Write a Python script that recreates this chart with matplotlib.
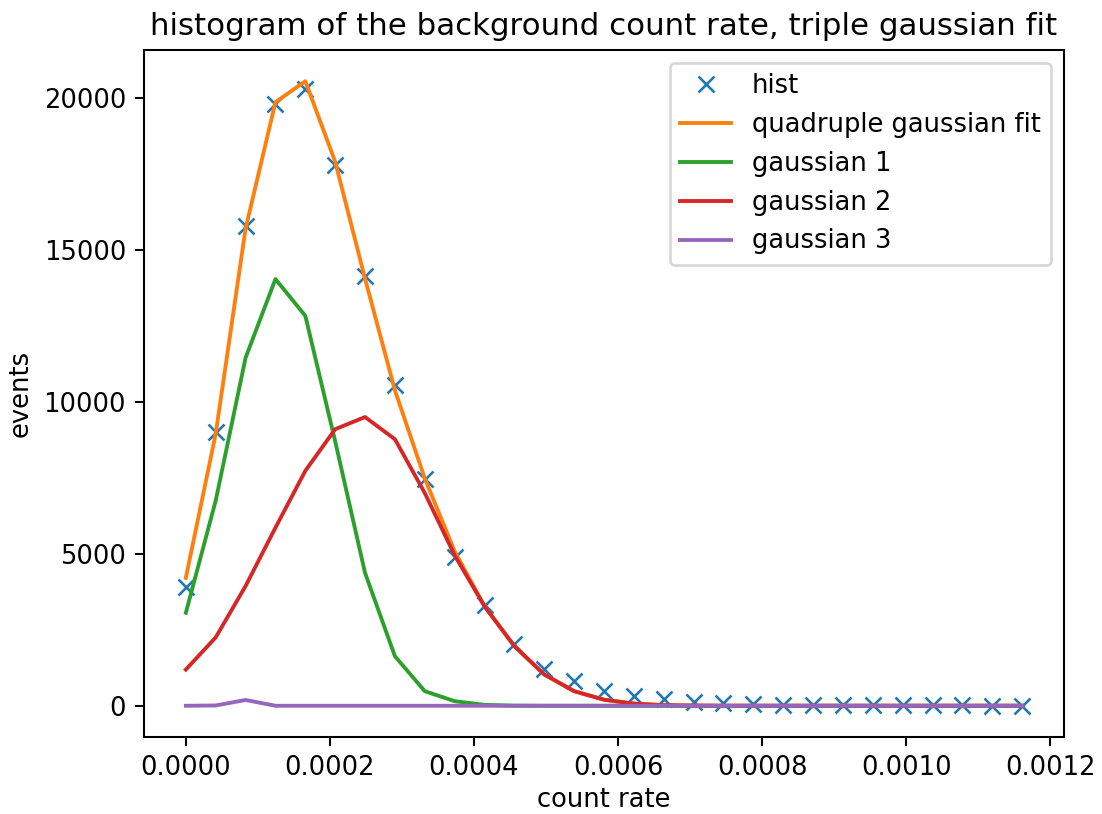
import numpy as np
import matplotlib.pyplot as plt

# bin centres (count rate)
n_bins = 29
bin_width = 4.147e-5
count_rate = [i * bin_width for i in range(n_bins)]

hist = [3900, 9000, 15800, 19800, 20300, 17800, 14130, 10550, 7450, 4890,
        3300, 2020, 1220, 810, 490, 330, 220, 140, 90, 70,
        40, 30, 25, 20, 15, 12, 10, 8, 5]

fit_total = [4210, 8950, 15700, 19860, 20550, 17900, 14050, 10380, 7480, 5080,
             3280, 1960, 1030, 480, 200, 70, 20, 5, 0, 0,
             0, 0, 0, 0, 0, 0, 0, 0, 0]

gauss1 = [3060, 6750, 11450, 14040, 12830, 8700, 4370, 1630, 480, 150,
          30, 5, 0, 0, 0, 0, 0, 0, 0, 0,
          0, 0, 0, 0, 0, 0, 0, 0, 0]

gauss2 = [1190, 2250, 3940, 5860, 7730, 9100, 9500, 8770, 7000, 4950,
          3270, 1960, 1030, 480, 200, 70, 20, 5, 0, 0,
          0, 0, 0, 0, 0, 0, 0, 0, 0]

gauss3 = [0, 10, 190, 0, 0, 0, 0, 0, 0, 0,
          0, 0, 0, 0, 0, 0, 0, 0, 0, 0,
          0, 0, 0, 0, 0, 0, 0, 0, 0]

dpi = 185
fig = plt.figure(figsize=(1102 / dpi, 814 / dpi), dpi=dpi)
ax = fig.add_axes([0.1307, 0.0946, 0.8348, 0.844])

ax.plot(count_rate, hist, 'x', label='hist')
ax.plot(count_rate, fit_total, label='quadruple gaussian fit')
ax.plot(count_rate, gauss1, label='gaussian 1')
ax.plot(count_rate, gauss2, label='gaussian 2')
ax.plot(count_rate, gauss3, label='gaussian 3')

ax.set_title('histogram of the background count rate, triple gaussian fit')
ax.set_xlabel('count rate', labelpad=2.5)
ax.set_ylabel('events')
ax.legend(loc='upper right')

fig.savefig('out.png', dpi=dpi)
